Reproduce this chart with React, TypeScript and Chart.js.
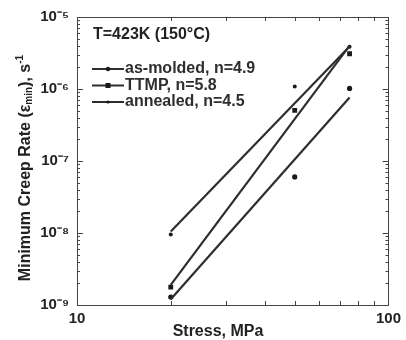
import React, { useEffect, useRef } from "react";
import { Chart, registerables } from "chart.js";

Chart.register(...registerables);

// ---- data ----
const stress = [20, 50, 75];
const asMolded = [1.29e-9, 6.0e-8, 1.02e-6];
const ttmp = [1.77e-9, 5.05e-7, 3.09e-6];
const annealed = [9.5e-9, 1.08e-6, 3.86e-6];

const fitStress = [20, 75];
const asMoldedFit = [1.2e-9, 7.6e-7];
const ttmpFit = [1.9e-9, 4.0e-6];
const annealedFit = [1.05e-8, 3.9e-6];

const seriesNames = ["as-molded, n=4.9", "TTMP, n=5.8", "annealed, n=4.5"];
const annotationText = "T=423K (150°C)";
const xLabelValues = [10, 100];
const yLabelValues = [1e-9, 1e-8, 1e-7, 1e-6, 1e-5];
const yLabelTexts = ["10⁻⁹", "10⁻⁸", "10⁻⁷", "10⁻⁶", "10⁻⁵"];
const xTitle = "Stress, MPa";

const FONT = "'Liberation Sans', Arial, Helvetica, sans-serif";
const LINE = "#2e2e2e";
const MARK = "#1a1a1a";
const TEXT = "#222222";

const markerStyles = [
  { style: "circle", r: 2.6 },
  { style: "rect", r: 3.4 },
  { style: "circle", r: 2 },
];

function pts(xs: number[], ys: number[]) {
  return xs.map((x, i) => ({ x, y: ys[i] }));
}

const overlay = {
  id: "overlay",
  afterDraw(chart: any) {
    const { ctx, chartArea: a, scales } = chart;
    const xs = scales.x;
    const ys = scales.y;
    ctx.save();
    // frame
    ctx.strokeStyle = "#444";
    ctx.lineWidth = 1;
    ctx.strokeRect(Math.round(a.left) + 0.5, Math.round(a.top) + 0.5, Math.round(a.right - a.left), Math.round(a.bottom - a.top));
    // x minor ticks (inward, top and bottom)
    ctx.beginPath();
    for (let v = 20; v < 100; v += 10) {
      const px = Math.round(xs.getPixelForValue(v)) + 0.5;
      ctx.moveTo(px, a.bottom);
      ctx.lineTo(px, a.bottom - 4);
      ctx.moveTo(px, a.top);
      ctx.lineTo(px, a.top + 4);
    }
    // y ticks (inward, left and right)
    for (let d = -9; d <= -6; d++) {
      for (let m = 1; m <= 9; m++) {
        const v = m * Math.pow(10, d);
        const py = Math.round(ys.getPixelForValue(v)) + 0.5;
        const len = m === 1 ? 6 : 3;
        ctx.moveTo(a.left, py);
        ctx.lineTo(a.left + len, py);
        ctx.moveTo(a.right, py);
        ctx.lineTo(a.right - len, py);
      }
    }
    ctx.stroke();

    // annotation
    ctx.fillStyle = TEXT;
    ctx.textBaseline = "middle";
    ctx.textAlign = "left";
    ctx.font = `bold 16px ${FONT}`;
    ctx.fillText(annotationText, a.left + 16, a.top + 18);

    // legend
    for (let i = 0; i < seriesNames.length; i++) {
      const y = a.top + 52 + i * 16.5;
      const x0 = a.left + 15;
      const x1 = a.left + 47;
      ctx.strokeStyle = LINE;
      ctx.lineWidth = 2;
      ctx.beginPath();
      ctx.moveTo(x0, y);
      ctx.lineTo(x1, y);
      ctx.stroke();
      const ms = markerStyles[i];
      ctx.fillStyle = MARK;
      const cx = (x0 + x1) / 2;
      if (ms.style === "rect") {
        ctx.fillRect(cx - 2.5, y - 2.5, 5, 5);
      } else {
        ctx.beginPath();
        ctx.arc(cx, y, ms.r - 0.4, 0, Math.PI * 2);
        ctx.fill();
      }
      ctx.fillStyle = "#2e2e2e";
      ctx.font = `bold 16px ${FONT}`;
      ctx.fillText(seriesNames[i], x1 + 1, y);
    }

    // x title
    ctx.fillStyle = TEXT;
    ctx.textAlign = "center";
    ctx.font = `bold 16px ${FONT}`;
    ctx.fillText(xTitle, 218, 332);

    // y title (rotated, with subscript and superscript)
    ctx.translate(26, 168);
    ctx.rotate(-Math.PI / 2);
    const parts = [
      { t: "Minimum Creep Rate (", f: `bold 16px ${FONT}`, dy: 0 },
      { t: "ε", f: `bold 16px ${FONT}`, dy: 0 },
      { t: "min", f: `bold 10px ${FONT}`, dy: 3 },
      { t: "), s", f: `bold 16px ${FONT}`, dy: 0 },
      { t: "-1", f: `bold 10px ${FONT}`, dy: -6 },
    ];
    let total = 0;
    for (const p of parts) {
      ctx.font = p.f;
      total += ctx.measureText(p.t).width;
    }
    let cx = -total / 2;
    ctx.textAlign = "left";
    for (const p of parts) {
      ctx.font = p.f;
      ctx.fillText(p.t, cx, p.dy);
      cx += ctx.measureText(p.t).width;
    }
    ctx.restore();
  },
};

export default function App() {
  const ref = useRef<HTMLCanvasElement | null>(null);

  useEffect(() => {
    document.body.style.margin = "0";
    const canvas = ref.current;
    if (!canvas) return;
    const chart = new Chart(canvas, {
      type: "scatter",
      data: {
        datasets: [
          { label: "as-molded fit", data: pts(fitStress, asMoldedFit), showLine: true, borderColor: LINE, borderWidth: 2.2, pointRadius: 0 },
          { label: "TTMP fit", data: pts(fitStress, ttmpFit), showLine: true, borderColor: LINE, borderWidth: 2.2, pointRadius: 0 },
          { label: "annealed fit", data: pts(fitStress, annealedFit), showLine: true, borderColor: LINE, borderWidth: 2.2, pointRadius: 0 },
          { label: seriesNames[0], data: pts(stress, asMolded), showLine: false, pointStyle: "circle", pointRadius: markerStyles[0].r, backgroundColor: MARK, borderColor: MARK, borderWidth: 0 },
          { label: seriesNames[1], data: pts(stress, ttmp), showLine: false, pointStyle: "rect", pointRadius: markerStyles[1].r, backgroundColor: MARK, borderColor: MARK, borderWidth: 0 },
          { label: seriesNames[2], data: pts(stress, annealed), showLine: false, pointStyle: "circle", pointRadius: markerStyles[2].r, backgroundColor: MARK, borderColor: MARK, borderWidth: 0 },
        ],
      },
      options: {
        responsive: false,
        animation: false,
        devicePixelRatio: 1,
        layout: { padding: { top: 15, right: 13, left: 0, bottom: 0 } },
        plugins: { legend: { display: false }, tooltip: { enabled: false } },
        scales: {
          x: {
            type: "logarithmic",
            min: 10,
            max: 100,
            grid: { display: false, drawTicks: false },
            border: { display: false },
            afterFit: (s: any) => { s.height = 35; },
            ticks: {
              autoSkip: false,
              maxRotation: 0,
              padding: 5,
              color: TEXT,
              font: { family: FONT, size: 15, weight: "bold" },
              callback: (v: any) => {
                const i = xLabelValues.findIndex((t) => Math.abs(t - Number(v)) < 1e-6);
                return i >= 0 ? String(xLabelValues[i]) : "";
              },
            },
          },
          y: {
            type: "logarithmic",
            min: 1e-9,
            max: 1e-5,
            grid: { display: false, drawTicks: false },
            border: { display: false },
            afterFit: (s: any) => { s.width = 77; },
            ticks: {
              autoSkip: false,
              padding: 8,
              color: TEXT,
              font: { family: FONT, size: 15, weight: "bold" },
              callback: (v: any) => {
                const i = yLabelValues.findIndex((t) => Math.abs(t - Number(v)) / t < 1e-6);
                return i >= 0 ? yLabelTexts[i] : "";
              },
            },
          },
        },
      },
      plugins: [overlay],
    } as any);
    return () => chart.destroy();
  }, []);

  return (
    <div style={{ width: 406, height: 340, background: "#fff" }}>
      <canvas ref={ref} width={406} height={340} style={{ display: "block" }} />
    </div>
  );
}
